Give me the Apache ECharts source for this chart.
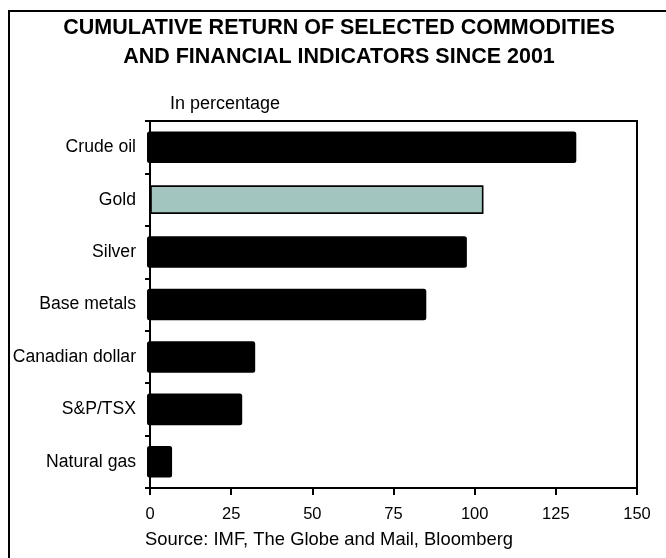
<!DOCTYPE html>
<html>
<head>
<meta charset="utf-8">
<script src="https://cdn.jsdelivr.net/npm/echarts@6/dist/echarts.min.js"></script>
<style>
  html, body { margin: 0; padding: 0; background: #fff; }
  #chart { width: 666px; height: 558px; }
</style>
</head>
<body>
<div id="chart"></div>
<script>
// Cumulative return since 2001, in percent
var categories = ['Crude oil', 'Gold', 'Silver', 'Base metals', 'Canadian dollar', 'S&P/TSX', 'Natural gas'];
var returns = [131.3, 102.7, 97.6, 85.1, 32.4, 28.4, 6.8];
var highlighted = 'Gold';
var xTicks = { min: 0, max: 150, step: 25 };

var FONT = 'Arial, "Liberation Sans", sans-serif';

// [value, category index]
var barData = categories.map(function (name, i) { return [returns[i], i]; });

function renderBar(params, api) {
  var idx = api.value(1);
  var end = api.coord([api.value(0), idx]);
  var start = api.coord([0, idx]);
  var isGold = categories[idx] === highlighted;
  if (isGold) {
    var h = 27;
    return {
      type: 'rect',
      shape: { x: start[0] + 1, y: end[1] - h / 2, width: end[0] - start[0] - 1.75, height: h },
      style: { fill: '#a3c5bf', stroke: '#000', lineWidth: 1.6 }
    };
  }
  var hb = 31.6;
  return {
    type: 'rect',
    shape: { x: start[0] - 3, y: end[1] - hb / 2, width: end[0] - start[0] + 3, height: hb, r: 2.5 },
    style: { fill: '#000' }
  };
}

var chart = echarts.init(document.getElementById('chart'), null, { renderer: 'canvas' });
chart.setOption({
  animation: false,
  backgroundColor: '#fff',
  textStyle: { fontFamily: FONT },
  grid: {
    left: 150, right: 29, top: 121, bottom: 70,
    show: true, borderColor: '#000', borderWidth: 2, backgroundColor: 'transparent'
  },
  graphic: [
    {
      type: 'rect', silent: true, z: 100,
      shape: { x: 9, y: 11, width: 700, height: 600 },
      style: { fill: 'none', stroke: '#000', lineWidth: 2 }
    },
    {
      type: 'text', x: 339, y: 28, z: 100,
      style: {
        text: 'CUMULATIVE RETURN OF SELECTED COMMODITIES',
        font: 'bold 21.5px ' + FONT, fill: '#000', textAlign: 'center', textVerticalAlign: 'middle'
      }
    },
    {
      type: 'text', x: 339, y: 57, z: 100,
      style: {
        text: 'AND FINANCIAL INDICATORS SINCE 2001',
        font: 'bold 21.5px ' + FONT, fill: '#000', textAlign: 'center', textVerticalAlign: 'middle'
      }
    },
    {
      type: 'text', x: 170, y: 104, z: 100,
      style: {
        text: 'In percentage',
        font: '18px ' + FONT, fill: '#000', textAlign: 'left', textVerticalAlign: 'middle'
      }
    },
    {
      type: 'text', x: 145, y: 540, z: 100,
      style: {
        text: 'Source: IMF, The Globe and Mail, Bloomberg',
        font: '18.4px ' + FONT, fill: '#000', textAlign: 'left', textVerticalAlign: 'middle'
      }
    }
  ],
  xAxis: {
    type: 'value',
    min: xTicks.min, max: xTicks.max, interval: xTicks.step,
    axisLine: { show: true, lineStyle: { color: '#000', width: 2 } },
    axisTick: { show: true, inside: false, length: 7, lineStyle: { color: '#000', width: 2 } },
    axisLabel: { color: '#000', fontSize: 16.5, fontFamily: FONT, margin: 18 },
    splitLine: { show: false }
  },
  yAxis: {
    type: 'category',
    data: categories,
    inverse: true,
    axisLine: { show: true, lineStyle: { color: '#000', width: 2 } },
    axisTick: { show: true, inside: false, length: 5, alignWithLabel: false, lineStyle: { color: '#000', width: 2 } },
    axisLabel: { color: '#000', fontSize: 17.6, fontFamily: FONT, margin: 14 },
    splitLine: { show: false }
  },
  series: [{
    type: 'custom',
    data: barData,
    encode: { x: 0, y: 1 },
    renderItem: renderBar,
    silent: true,
    z: 1
  }]
});
</script>
</body>
</html>
